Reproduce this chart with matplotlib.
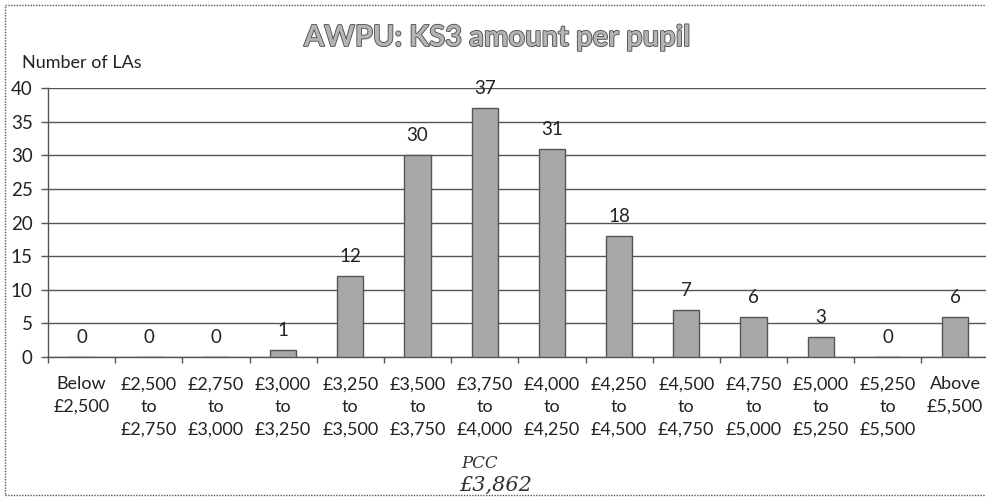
import matplotlib
matplotlib.use('Agg')
import matplotlib.pyplot as plt
import matplotlib.patheffects as pe
from matplotlib.patches import Rectangle
import numpy as np

# data
bands = ['Below\n£2,500', '£2,500\nto\n£2,750', '£2,750\nto\n£3,000',
         '£3,000\nto\n£3,250', '£3,250\nto\n£3,500', '£3,500\nto\n£3,750',
         '£3,750\nto\n£4,000', '£4,000\nto\n£4,250', '£4,250\nto\n£4,500',
         '£4,500\nto\n£4,750', '£4,750\nto\n£5,000', '£5,000\nto\n£5,250',
         '£5,250\nto\n£5,500', 'Above\n£5,500']
num_las = [0, 0, 0, 1, 12, 30, 37, 31, 18, 7, 6, 3, 0, 6]
y_ticks = [0, 5, 10, 15, 20, 25, 30, 35, 40]

plt.rcParams['font.family'] = ['Lato', 'DejaVu Sans']

fig = plt.figure(figsize=(9.86, 4.99), dpi=100)
ax = fig.add_axes([0.0487, 0.2846, 0.954, 0.539])

x = np.arange(len(num_las))
bars = ax.bar(x, num_las, width=0.39, color='#a8a8a8', edgecolor='#555555',
              linewidth=1.0, zorder=3)

for xi, v in zip(x, num_las):
    ax.annotate(str(v), (xi, v), xytext=(0, 14), textcoords='offset points',
                ha='center', va='center', fontsize=13.5, color='#222222', zorder=4)

ax.set_xlim(-0.5, len(num_las) - 0.5)
ax.set_ylim(0, 40)
ax.set_yticks(y_ticks)
ax.tick_params(axis='y', length=5, width=1, color='#555555', labelsize=13.5,
               pad=6, labelcolor='#222222')

# category boundaries get the tick marks, labels sit between them
ax.set_xticks(np.arange(len(num_las) + 1) - 0.5)
ax.set_xticklabels([])
ax.set_xticks(x, minor=True)
ax.set_xticklabels(bands, minor=True, fontsize=13, color='#222222', linespacing=1.5)
ax.tick_params(axis='x', which='major', length=4, width=1, color='#555555')
ax.tick_params(axis='x', which='minor', length=0, pad=14)

ax.grid(axis='y', color='#555555', linewidth=1.0, zorder=0)
for s in ['top', 'right']:
    ax.spines[s].set_visible(False)
for s in ['left', 'bottom']:
    ax.spines[s].set_color('#555555')
    ax.spines[s].set_linewidth(1.0)

fig.text(0.504, 1 - 38 / 499, 'AWPU: KS3 amount per pupil', ha='center', va='center',
         fontsize=21, fontweight='bold', color='#b4b4b4',
         path_effects=[pe.Stroke(linewidth=1.2, foreground='#4a4a4a'), pe.Normal()])
fig.text(22 / 986, 1 - 63 / 499, 'Number of LAs', ha='left', va='center',
         fontsize=13, color='#222222')

# handwritten note under the chart
fig.text(480 / 986, 1 - 463 / 499, 'PCC', ha='center', va='center', fontsize=12,
         style='italic', family='DejaVu Serif', color='#333333')
fig.text(496 / 986, 1 - 485 / 499, '£3,862', ha='center', va='center', fontsize=15,
         style='italic', family='DejaVu Serif', color='#333333')

# outer chart border
fig.patches.append(Rectangle((5 / 986, 4 / 499), 1.2, 1 - 9 / 499, transform=fig.transFigure,
                             fill=False, edgecolor='#555555', linewidth=1.0,
                             linestyle=(0, (1, 1))))

fig.savefig('out.png', dpi=100)
